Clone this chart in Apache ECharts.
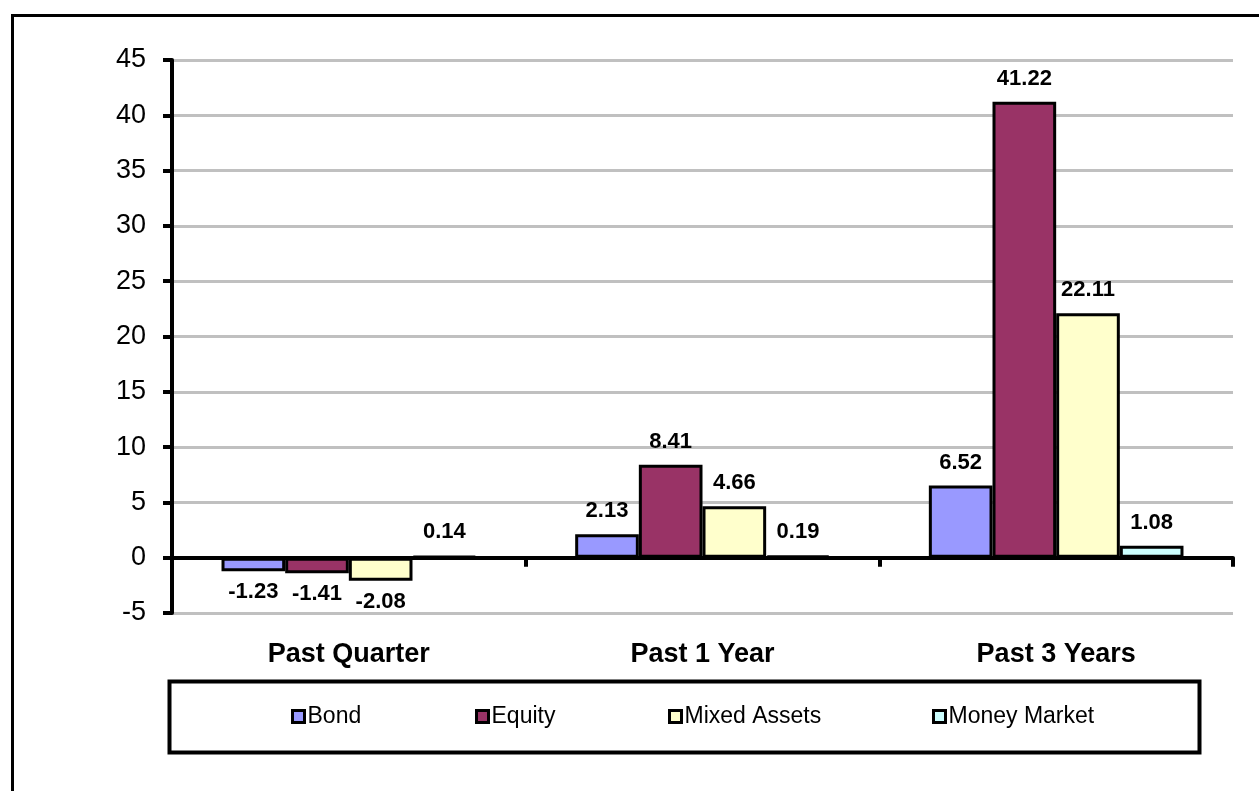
<!DOCTYPE html>
<html><head><meta charset="utf-8">
<script src="https://cdn.jsdelivr.net/npm/echarts@6/dist/echarts.min.js"></script>
<style>html,body{margin:0;padding:0;background:#fff}#c{width:1259px;height:791px}</style>
</head><body><div id="c"></div>
<script>
const categories = ['Past Quarter', 'Past 1 Year', 'Past 3 Years'];
const seriesNames = ['Bond', 'Equity', 'Mixed Assets', 'Money Market'];
const bond = [-1.23, 2.13, 6.52];
const equity = [-1.41, 8.41, 41.22];
const mixedAssets = [-2.08, 4.66, 22.11];
const moneyMarket = [0.14, 0.19, 1.08];
const colors = ['#9999FF', '#993366', '#FFFFCC', '#CCFFFF'];
const allValues = [bond, equity, mixedAssets, moneyMarket];

const FONT = '"Liberation Sans", Arial, sans-serif';
const series = allValues.map((vals, i) => ({
  name: seriesNames[i],
  type: 'bar',
  barGap: '0%',
  barCategoryGap: '28%',
  itemStyle: { color: colors[i], borderColor: '#000', borderWidth: 3 },
  data: vals.map(v => ({
    value: v,
    label: { show: true, position: v >= 0 ? 'top' : 'bottom', distance: v >= 0 ? 12 : 10,
      formatter: p => p.value.toFixed(2),
      fontFamily: FONT, fontWeight: 'bold', fontSize: 22, color: '#000' }
  }))
}));

const legendLefts = [286, 470, 663, 927];
const legends = seriesNames.map((n, i) => ({
  data: [n],
  left: legendLefts[i], top: 700,
  itemWidth: 12, itemHeight: 12,
  itemGap: 4,
  icon: 'rect',
  itemStyle: { borderColor: '#000', borderWidth: 3 },
  selectedMode: false,
  textStyle: { fontFamily: FONT, fontSize: 23, color: '#000', padding: [0, 0, 0, -2] }
}));

const chart = echarts.init(document.getElementById('c'));
chart.setOption({
  animation: false,
  color: colors,
  grid: { left: 172, right: 26, top: 60, bottom: 178 },
  graphic: [
    { type: 'rect', left: 10, top: 13, shape: { width: 1300, height: 900 },
      style: { fill: 'none', stroke: '#000', lineWidth: 3 }, z: -10 },
    { type: 'rect', left: 167, top: 679, shape: { width: 1030, height: 71 },
      style: { fill: 'none', stroke: '#000', lineWidth: 4 }, z: -10 }
  ],
  legend: legends,
  xAxis: {
    type: 'category',
    data: categories,
    axisLine: { onZero: true, lineStyle: { color: '#000', width: 4 } },
    axisTick: { show: true, length: 9, lineStyle: { color: '#000', width: 4 } },
    axisLabel: { margin: 28, fontFamily: FONT, fontWeight: 'bold', fontSize: 27, color: '#000' },
    splitLine: { show: false }
  },
  yAxis: {
    type: 'value',
    min: -5, max: 45, interval: 5,
    axisLine: { show: true, lineStyle: { color: '#000', width: 4 } },
    axisTick: { show: true, length: 9, lineStyle: { color: '#000', width: 4 } },
    axisLabel: { margin: 26, fontFamily: FONT, fontSize: 27, color: '#000' },
    splitLine: { show: true, lineStyle: { color: '#C0C0C0', width: 3 } }
  },
  series: series
});
</script></body></html>
